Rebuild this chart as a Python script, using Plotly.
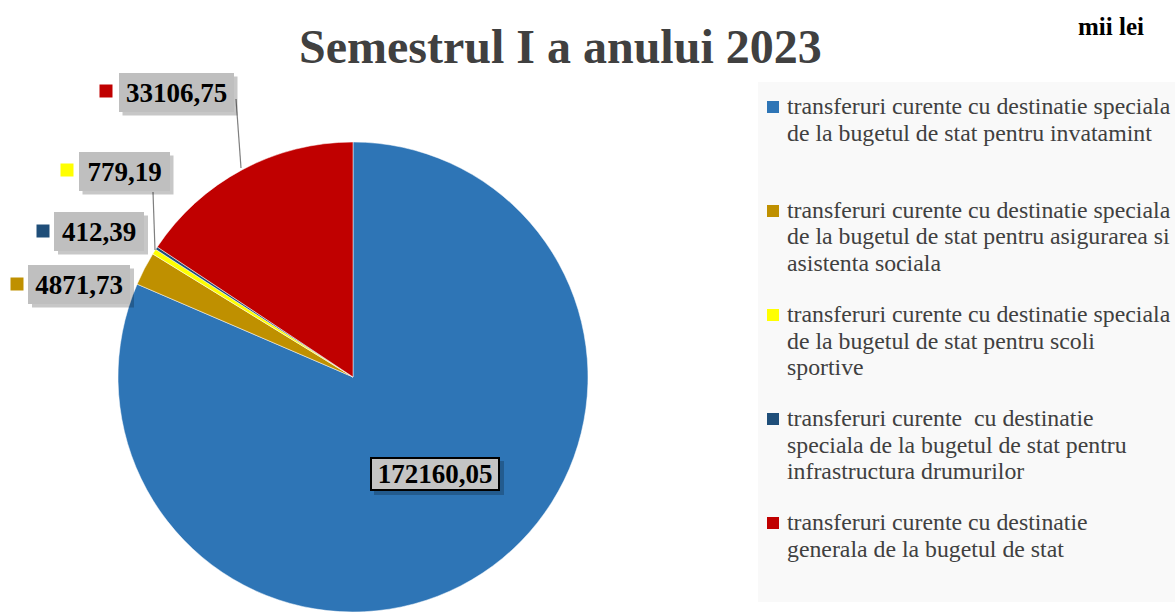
import plotly.graph_objects as go

W, H = 1175, 612

labels = [
    "transferuri curente cu destinatie speciala<br>de la bugetul de stat pentru invatamint",
    "transferuri curente cu destinatie speciala<br>de la bugetul de stat pentru asigurarea si<br>asistenta sociala",
    "transferuri curente cu destinatie speciala<br>de la bugetul de stat pentru scoli<br>sportive",
    "transferuri curente \u00a0cu destinatie<br>speciala de la bugetul de stat pentru<br>infrastructura drumurilor",
    "transferuri curente cu destinatie<br>generala de la bugetul de stat",
]
values = [172160.05, 4871.73, 779.19, 412.39, 33106.75]
colors = ["#2E75B6", "#BF9000", "#FFFF00", "#1F4E79", "#C00000"]

title = "Semestrul I a anului 2023"
unit = "mii lei"

# label boxes: centre x, centre y, box width, box height (pixels)
box_pos = [(435, 474, 130, 34), (79, 284, 102, 39), (124, 171, 91, 39),
           (99, 231, 90, 39), (176, 92, 115, 39)]
# little colour keys beside the outside labels (centre x, centre y)
key_pos = [None, (17, 284), (67, 170), (43, 231), (106, 91)]
leaders = [((236, 99), (241, 168)), ((153, 192), (155, 250))]


def px(x):
    return x / W


def py(y):
    return 1 - y / H


def fmt(v):
    return f"{v:.2f}".replace(".", ",")


fig = go.Figure(go.Pie(
    labels=labels, values=values, sort=False, direction="clockwise",
    marker=dict(colors=colors, line=dict(color="white", width=0.5)),
    textinfo="none", hoverinfo="label+value", showlegend=False,
    domain=dict(x=[px(118), px(588)], y=[0, 470 / H]),
))

shapes = []
ann = []

# legend panel
shapes.append(dict(type="rect", xref="paper", yref="paper", x0=px(758), x1=px(1175),
                   y0=py(602), y1=py(82), fillcolor="#F9F9F9", line_width=0, layer="below"))
for i, (name, c) in enumerate(zip(labels, colors)):
    yc = 107 + i * 104
    shapes.append(dict(type="rect", xref="paper", yref="paper", x0=px(767), x1=px(779),
                       y0=py(yc + 6), y1=py(yc - 6), fillcolor=c, line_width=0))
    for j, line in enumerate(name.split("<br>")):
        ann.append(dict(x=px(785), y=py(yc - 1 + j * 26.5), xref="paper", yref="paper",
                        text=line, showarrow=False, xanchor="left", yanchor="middle",
                        font=dict(family="Liberation Serif", size=23.8, color="#404040")))

# leader lines
for (x0, y0), (x1, y1) in leaders:
    shapes.append(dict(type="line", xref="paper", yref="paper", x0=px(x0), y0=py(y0),
                       x1=px(x1), y1=py(y1), line=dict(color="#7F7F7F", width=1.2)))

# data labels
for i, v in enumerate(values):
    cx, cy, bw, bh = box_pos[i]
    shapes.append(dict(type="rect", xref="paper", yref="paper", layer="above",
                       x0=px(cx - bw / 2 + 4), x1=px(cx + bw / 2 + 4),
                       y0=py(cy + bh / 2 + 4), y1=py(cy - bh / 2 + 4),
                       fillcolor="rgba(0,0,0,0.22)", line_width=0))
    inner = i == 0
    bwid = 2 if inner else 0
    ann.append(dict(x=px(cx), y=py(cy), xref="paper", yref="paper", text=f"<b>{fmt(v)}</b>",
                    showarrow=False, xanchor="center", yanchor="middle",
                    width=bw - 2 * bwid, height=bh - 2 * bwid, borderpad=0,
                    bgcolor="#C4C4C4" if inner else "#BFBFBF",
                    bordercolor="black", borderwidth=bwid,
                    font=dict(family="Liberation Serif", size=27, color="black")))
    if key_pos[i]:
        kx, ky = key_pos[i]
        shapes.append(dict(type="rect", xref="paper", yref="paper", x0=px(kx - 6.5),
                           x1=px(kx + 6.5), y0=py(ky + 6.5), y1=py(ky - 6.5),
                           fillcolor=colors[i], line_width=0))

ann.append(dict(x=px(560), y=py(47), xref="paper", yref="paper", text=f"<b>{title}</b>",
                showarrow=False, xanchor="center", yanchor="middle",
                font=dict(family="Liberation Serif", size=48, color="#404040")))
ann.append(dict(x=px(1111), y=py(27), xref="paper", yref="paper", text=f"<b>{unit}</b>",
                showarrow=False, xanchor="center", yanchor="middle",
                font=dict(family="Liberation Serif", size=25, color="black")))

fig.update_layout(width=W, height=H, margin=dict(l=0, r=0, t=0, b=0),
                  paper_bgcolor="white", plot_bgcolor="white",
                  shapes=shapes, annotations=ann)
fig.write_html("out.html", config={"displayModeBar": False},
               post_script="document.body.style.margin='0';")
